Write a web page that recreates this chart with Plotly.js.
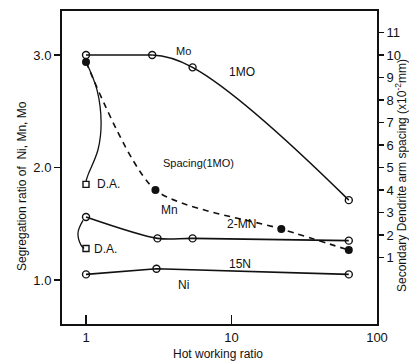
<!DOCTYPE html>
<html><head><meta charset="utf-8">
<script src="https://cdn.plot.ly/plotly-3.0.1.min.js"></script>
<style>html,body{margin:0;padding:0;background:#fff}#chart{width:409px;height:361px}</style>
</head><body><div id="chart"></div>
<script>
// Data
const moX = [1, 2.85, 5.4, 64];
const moY = [3.0, 3.0, 2.89, 1.71];
const spacingX = [1, 3.0, 22, 64];
const spacingY = [9.69, 4.0, 2.27, 1.33];
const mnX = [1, 3.1, 5.4, 64];
const mnY = [1.56, 1.37, 1.37, 1.35];
const niX = [1, 3.05, 64];
const niY = [1.05, 1.10, 1.05];
const daX = [1, 1];
const daY = [1.85, 1.28];
const daUpperX = [1, 1.19, 1.27, 1.21, 1.03, 1];
const daUpperY = [2.94, 2.69, 2.40, 2.16, 1.93, 1.88];
const daLowerX = [0.954, 0.881, 0.924, 0.97];
const daLowerY = [1.53, 1.42, 1.31, 1.28];
const xTicks = [1, 10, 100];
const xTickText = ['1', '10', '100'];
const yTicks = [1, 2, 3];
const yTickText = ['1.0', '2.0', '3.0'];
const y2Ticks = [1,2,3,4,5,6,7,8,9,10,11];
const y2TickText = ['1','2','3','4','5','6','7','8','9','10','11'];

const W = 409, H = 361, L = 62, R = 32, T = 11, B = 37;
const pw = W - L - R, ph = H - T - B;
const px = x => (x - L) / pw;
const py = y => (H - B - y) / ph;

const black = '#111';
const openMarker = {symbol: 'circle-open', size: 7, color: black, line: {width: 1.4, color: black}};
const noMarker = {size: 0.1, opacity: 0};
const traces = [
  // Mo: straight start, then curved fall
  {x: moX.slice(0, 2), y: moY.slice(0, 2), mode: 'lines', line: {color: black, width: 1.6}},
  {x: moX.slice(1), y: moY.slice(1), mode: 'lines', line: {color: black, width: 1.6, shape: 'spline', smoothing: 1.3}},
  {x: moX, y: moY, mode: 'markers', marker: openMarker},
  {x: mnX, y: mnY, mode: 'lines+markers', line: {color: black, width: 1.6, shape: 'spline', smoothing: 0.8}, marker: openMarker},
  {x: niX, y: niY, mode: 'lines+markers', line: {color: black, width: 1.6}, marker: openMarker},
  {x: daX, y: daY, mode: 'markers', marker: {symbol: 'square-open', size: 6, color: black, line: {width: 1.4, color: black}}},
  {x: daUpperX, y: daUpperY, mode: 'lines', line: {color: black, width: 1.3, shape: 'spline'}},
  {x: daLowerX, y: daLowerY, mode: 'lines', line: {color: black, width: 1.3, shape: 'spline'}},
  {x: spacingX, y: spacingY, yaxis: 'y2', mode: 'lines+markers', line: {color: black, width: 1.6, dash: '6px,5px', shape: 'spline', smoothing: 0.7}, marker: {symbol: 'circle', size: 8, color: black}}
];

const fnt = {family: 'Liberation Sans, Arial, sans-serif', color: black};
function ann(text, x, y, size, extra) {
  return Object.assign({text: text, xref: 'paper', yref: 'paper', x: px(x), y: py(y), showarrow: false,
    xanchor: 'center', yanchor: 'middle', font: Object.assign({}, fnt, {size: size})}, extra || {});
}
const annotations = [
  ann('Mo', 183, 51, 11),
  ann('1MO', 242, 72, 12),
  ann('Spacing(1MO)', 198, 163, 11),
  ann('D.A.', 95, 184, 12, {xanchor: 'left'}),
  ann('Mn', 169, 210, 12),
  ann('2-MN', 241, 224, 12),
  ann('D.A.', 92, 249, 12, {xanchor: 'left'}),
  ann('15N', 240, 264, 12),
  ann('Ni', 183, 285, 12),
  ann('Hot working ratio', 218, 354, 12),
  ann('Segregation ratio of  Ni, Mn, Mo', 22, 186, 12, {textangle: -90}),
  ann('Secondary Dendrite arm spacing (x10<sup>-2</sup>mm)', 401, 176, 12, {textangle: -90})
];

const layout = {
  width: W, height: H, margin: {l: L, r: R, t: T, b: B, pad: 0},
  paper_bgcolor: '#fff', plot_bgcolor: '#fff', showlegend: false,
  font: Object.assign({}, fnt, {size: 13}),
  xaxis: {type: 'log', range: [-0.165, 2.0], tickvals: xTicks, ticktext: xTickText,
    ticks: 'inside', ticklen: 9, tickwidth: 1.5, tickcolor: black, showline: true, linewidth: 2, linecolor: black,
    mirror: true, showgrid: false, zeroline: false, tickfont: {size: 13, color: black}},
  yaxis: {range: [0.609, 3.391], tickvals: yTicks, ticktext: yTickText, ticks: 'outside', ticklen: 6,
    tickwidth: 1.5, tickcolor: black, showline: true, linewidth: 2, linecolor: black,
    showgrid: false, zeroline: false, tickfont: {size: 13, color: black}},
  yaxis2: {overlaying: 'y', side: 'right', range: [-1.956, 11.956], tickvals: y2Ticks, ticktext: y2TickText,
    ticks: 'outside', ticklen: 5, tickwidth: 1.5, tickcolor: black, showline: true, linewidth: 2, linecolor: black,
    showgrid: false, zeroline: false, tickfont: {size: 13, color: black}},
  annotations: annotations
};
Plotly.newPlot('chart', traces, layout, {displayModeBar: false, staticPlot: true});
</script></body></html>
